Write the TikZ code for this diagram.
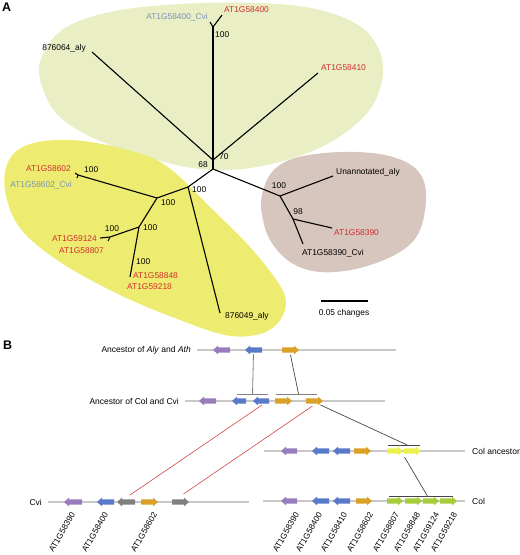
\documentclass[tikz,border=0pt]{standalone}
\usepackage{fontspec}
\setmainfont{Liberation Sans}
\usetikzlibrary{calc}
\definecolor{cred}{RGB}{210,45,45}
\definecolor{cgb}{RGB}{120,148,182}
\definecolor{rgreen}{RGB}{233,238,196}
\definecolor{ryellow}{RGB}{238,236,112}
\definecolor{rbrown}{RGB}{214,198,189}
\definecolor{gpurple}{RGB}{152,124,190}
\definecolor{gblue}{RGB}{88,122,200}
\definecolor{gorange}{RGB}{218,160,40}
\definecolor{gyellow}{RGB}{236,240,80}
\definecolor{ggreen}{RGB}{166,204,60}
\definecolor{ggray}{RGB}{128,128,128}
\definecolor{backb}{RGB}{200,200,200}
\definecolor{redline}{RGB}{210,70,70}
\definecolor{connc}{RGB}{70,70,70}
\tikzset{
  br/.style={line width=1.1pt, black},
  lab/.style={font=\fontsize{8.4}{9}\selectfont, inner sep=0pt},
  blab/.style={font=\fontsize{8.5}{9}\selectfont, inner sep=0pt},
  rlab/.style={font=\fontsize{8.3}{9}\selectfont, inner sep=0pt, rotate=60, anchor=east},
  panel/.style={font=\fontsize{12.5}{13}\selectfont\bfseries, inner sep=0pt},
  backbone/.style={line width=2pt, backb},
  conn/.style={line width=0.7pt, connc},
  gconn/.style={line width=0.8pt, ggray},
  redc/.style={line width=0.6pt, redline},
}
\newcommand\geneR[5]{%
  \fill[#5] (#2,#4-2.6) -- ({#3-5},#4-2.6) -- ({#3-5},#4-4.4) -- (#3,#4) -- ({#3-5},#4+4.4) -- ({#3-5},#4+2.6) -- (#2,#4+2.6) -- cycle;
  \coordinate (#1) at ({(#2+#3)/2},#4);}
\newcommand\geneL[5]{%
  \fill[#5] (#3,#4-2.6) -- ({#2+5},#4-2.6) -- ({#2+5},#4-4.4) -- (#2,#4) -- ({#2+5},#4+4.4) -- ({#2+5},#4+2.6) -- (#3,#4+2.6) -- cycle;
  \coordinate (#1) at ({(#2+#3)/2},#4);}
\begin{document}
\begin{tikzpicture}[x=1pt,y=-1pt]
\useasboundingbox (0,0) rectangle (520,555);
% ---------- Panel A regions
\fill[rgreen] plot[smooth cycle, tension=0.6] coordinates {(40,62) (62,30) (110,12) (180,4) (260,3) (320,10) (365,30) (383,65) (373,105) (342,135) (302,155) (250,168) (200,169) (150,158) (100,141) (62,119) (44,92)};
\fill[ryellow] plot[smooth cycle, tension=0.6] coordinates {(5,190) (9,160) (30,144) (70,140) (120,148) (165,165) (213,210) (250,247) (279,284) (286,305) (276,325) (256,335) (225,335) (180,320) (120,295) (60,262) (20,228)};
\fill[rbrown] plot[smooth cycle, tension=0.6] coordinates {(262,195) (272,172) (295,158) (340,152) (385,155) (415,168) (426,192) (420,230) (400,252) (360,268) (320,272) (290,262) (270,240) (262,215)};
\node[panel, anchor=north west] (pA) at (2,3) {A};
% ---------- tree nodes
\coordinate (n68) at (213,169);
\coordinate (n70) at (213,160);
\coordinate (nT) at (213,27);
\coordinate (l400c) at (210,22);
\coordinate (l400) at (222,15);
\coordinate (l064) at (92,52);
\coordinate (l410) at (318,73);
\coordinate (nB) at (280,196);
\coordinate (lUn) at (333,176);
\coordinate (n98) at (293,219);
\coordinate (l390) at (332,228);
\coordinate (l390c) at (303,244);
\coordinate (nY) at (188,187);
\coordinate (l049) at (220,313);
\coordinate (nY2) at (157,198);
\coordinate (nF) at (78,175);
\coordinate (l602) at (75,173);
\coordinate (l602c) at (77,178);
\coordinate (nY3) at (139,227);
\coordinate (nF2) at (110,237);
\coordinate (l124) at (100,238);
\coordinate (l807) at (108,241);
\coordinate (l848) at (130,277);
\draw[br] (n68) -- (n70);
\draw[br] (n70) -- (nT);
\draw[br] (nT) -- (l400c);
\draw[br] (nT) -- (l400);
\draw[br] (n70) -- (l064);
\draw[br] (n70) -- (l410);
\draw[br] (n68) -- (nB);
\draw[br] (nB) -- (lUn);
\draw[br] (nB) -- (n98);
\draw[br] (n98) -- (l390);
\draw[br] (n98) -- (l390c);
\draw[br] (n68) -- (nY);
\draw[br] (nY) -- (l049);
\draw[br] (nY) -- (nY2);
\draw[br] (nY2) -- (nF);
\draw[br] (nF) -- (l602);
\draw[br] (nF) -- (l602c);
\draw[br] (nY2) -- (nY3);
\draw[br] (nY3) -- (nF2);
\draw[br] (nF2) -- (l124);
\draw[br] (nF2) -- (l807);
\draw[br] (nY3) -- (l848);
% ---------- tree labels
\node[lab, cgb, anchor=east] (t400c) at (208,17) {AT1G58400\_Cvi};
\node[lab, cred, anchor=west] (t400) at (224,10) {AT1G58400};
\node[lab, anchor=west] (b1) at (215,35) {100};
\node[lab, anchor=east] (t064) at (86,48) {876064\_aly};
\node[lab, cred, anchor=west] (t410) at (321,68) {AT1G58410};
\node[lab, anchor=west] (b70) at (219,157) {70};
\node[lab, anchor=east] (b68) at (208,165) {68};
\node[lab] (bB) at (279,186) {100};
\node[lab, anchor=west] (tUn) at (336,172) {Unannotated\_aly};
\node[lab] (b98) at (298,212) {98};
\node[lab, cred, anchor=west] (t390) at (334,233) {AT1G58390};
\node[lab, anchor=west] (t390c) at (302,253) {AT1G58390\_Cvi};
\node[lab, anchor=west] (bY) at (192,190) {100};
\node[lab, anchor=west] (bY2) at (161,203) {100};
\node[lab, anchor=west] (bF) at (84,170) {100};
\node[lab, cred, anchor=east] (t602) at (71,169) {AT1G58602};
\node[lab, cgb, anchor=east] (t602c) at (72,185) {AT1G58602\_Cvi};
\node[lab, anchor=west] (bY3) at (143,228) {100};
\node[lab] (bF2) at (112,229) {100};
\node[lab, cred, anchor=east] (t124) at (97,239) {AT1G59124};
\node[lab, cred, anchor=east] (t807) at (104,251) {AT1G58807};
\node[lab, anchor=west] (b848) at (136,262) {100};
\node[lab, cred, anchor=west] (t848) at (133,276) {AT1G58848};
\node[lab, cred, anchor=west] (t218) at (127,287) {AT1G59218};
\node[lab, anchor=west] (t049) at (225,316) {876049\_aly};
% scale bar
\coordinate (sb1) at (321,301);
\coordinate (sb2) at (368,301);
\draw[line width=1.2pt] (sb1) -- (sb2);
\node[lab] (sbt) at (344,313) {0.05 changes};
% ---------- Panel B
\node[panel, anchor=north west] (pB) at (3,341) {B};
% row 1
\draw[backbone] (197,350) -- (396,350);
\geneL{a1}{213}{230}{350}{gpurple}
\geneL{a2}{245}{262}{350}{gblue}
\geneR{a3}{282}{299}{350}{gorange}
\node[blab, anchor=east] (r1t) at (191,350) {Ancestor of \textit{Aly} and \textit{Ath}};
% row 2
\draw[backbone] (185,401) -- (385,401);
\geneL{b1}{199}{216}{401}{gpurple}
\geneL{b2}{232}{246}{401}{gblue}
\geneL{b3}{253}{269}{401}{gblue}
\geneR{b4}{275}{292}{401}{gorange}
\geneR{b5}{306}{323}{401}{gorange}
\node[blab, anchor=east] (r2t) at (179,401) {Ancestor of Col and Cvi};
\coordinate (k1a) at (237,394); \coordinate (k1b) at (268,394);
\coordinate (k2a) at (276,394); \coordinate (k2b) at (317,394);
\draw[gconn] (k1a) -- (k1b);
\draw[gconn] (k2a) -- (k2b);
\draw[gconn] ($(a2)+(0,4)$) -- ($(k1a)!0.5!(k1b)$);
\draw[conn] ($(a3)+(0,5)$) -- ($(k2a)!0.55!(k2b)$);
% row 3
\draw[backbone] (264,451) -- (465,451);
\geneL{c1}{281}{297}{451}{gpurple}
\geneL{c2}{312}{329}{451}{gblue}
\geneL{c3}{333}{350}{451}{gblue}
\geneR{c4}{354}{371}{451}{gorange}
\geneR{c5}{387}{403}{451}{gyellow}
\geneR{c6}{404}{421}{451}{gyellow}
\node[blab, anchor=west] (r3t) at (472,451) {Col ancestor};
\coordinate (k3a) at (388,445); \coordinate (k3b) at (420,445);
\draw[conn] (k3a) -- (k3b);
\draw[conn] ($(b5)+(6,4)$) -- ($(k3a)!0.6!(k3b)$);
% row 4 Col
\draw[backbone] (263,501) -- (465,501);
\geneL{d1}{281}{297}{501}{gpurple}
\geneL{d2}{312}{329}{501}{gblue}
\geneL{d3}{333}{350}{501}{gblue}
\geneR{d4}{356}{372}{501}{gorange}
\geneR{d5}{387}{403}{501}{ggreen}
\geneR{d6}{405}{422}{501}{ggreen}
\geneR{d7}{423}{439}{501}{ggreen}
\geneR{d8}{440}{457}{501}{ggreen}
\node[blab, anchor=west] (r4t) at (472,501) {Col};
\coordinate (k4a) at (389,496); \coordinate (k4b) at (453,496);
\draw[conn] (k4a) -- (k4b);
\draw[conn] ($(c6)+(-8,6)$) -- ($(k4a)!0.6!(k4b)$);
% Cvi
\draw[backbone] (48,502) -- (249,502);
\geneL{e1}{64}{82}{502}{gpurple}
\geneL{e2}{97}{114}{502}{gblue}
\geneL{e3}{117}{135}{502}{ggray}
\geneR{e4}{141}{158}{502}{gorange}
\geneR{e5}{172}{189}{502}{ggray}
\node[blab, anchor=east] (r5t) at (42,502) {Cvi};
\draw[redc] ($(e3)+(4,-7)$) -- ($(b3)+(1,4)$);
\draw[redc] ($(e5)+(3,-8)$) -- ($(b5)+(-2,5)$);
% rotated gene labels
\node[rlab] (q1) at (73,513) {AT1G58390};
\node[rlab] (q2) at (106,513) {AT1G58400};
\node[rlab] (q3) at (155,513) {AT1G58602};
\node[rlab] (s1) at (297,513) {AT1G58390};
\node[rlab] (s2) at (320,513) {AT1G58400};
\node[rlab] (s3) at (345,513) {AT1G58410};
\node[rlab] (s4) at (371,513) {AT1G58602};
\node[rlab] (s5) at (397,513) {AT1G58807};
\node[rlab] (s6) at (418,513) {AT1G58848};
\node[rlab] (s7) at (437,513) {AT1G59124};
\node[rlab] (s8) at (455,513) {AT1G59218};
\end{tikzpicture}
\end{document}
